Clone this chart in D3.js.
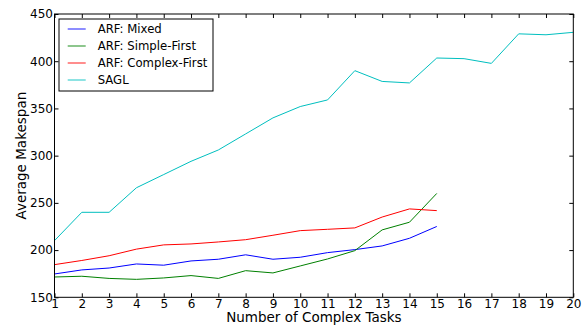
<!DOCTYPE html>
<html>
<head>
<meta charset="utf-8">
<script src="https://cdn.jsdelivr.net/npm/d3@7"></script>
<style>
	body { margin: 0; background: #fff; }
	#chart { width: 585px; height: 326px; }
	text { font-family: "DejaVu Sans", sans-serif; }
</style>
</head>
<body>
<div id="chart"></div>
<script>
const tasks = d3.range(1, 21);
const mixed = [174.7, 179, 181, 185.3, 184, 188.5, 190.3, 195, 190.3, 192.4, 197.3, 200.5, 204.4, 212.5, 225];
const simple_first = [171.5, 172.3, 170, 169, 170.5, 173, 170, 178.2, 175.8, 183.2, 190.6, 199.4, 221.4, 229.5, 260];
const complex_first = [184.6, 189, 194, 201, 205.5, 206.5, 208.6, 211, 215.7, 220.6, 222, 223.5, 235, 243.6, 241.8];
const sagl = [210, 240, 240, 266, 280, 294, 306, 323, 340, 352, 359, 390, 378.6, 377, 403.4, 402.7, 397.7, 429, 428, 430.6];
const y_ticks = [150, 200, 250, 300, 350, 400, 450];

const series_names = ["ARF: Mixed", "ARF: Simple-First", "ARF: Complex-First", "SAGL"];
const series_values = [mixed, simple_first, complex_first, sagl];
const colors = ["#0000ff", "#008000", "#ff0000", "#00bfbf"];

let margin = { top: 14, left: 54.5, bottom: 28.7, right: 11.7 };
let width = 585 - margin.left - margin.right,
	height = 326 - margin.top - margin.bottom;

let svg = d3.select("#chart")
	.append("svg")
	.attr("width", 585)
	.attr("height", 326);

let plot = svg.append("g")
	.attr("transform", "translate(" + margin.left + "," + margin.top + ")");

// scales
let x = d3.scaleLinear().domain([1, 20]).range([0, width]);
let y = d3.scaleLinear().domain([150, 450]).range([height, 0]);

// axes (ticks inward, all four sides)
function style_axis(g) {
	g.select(".domain").remove();
	g.selectAll("text").style("font-size", "12px").attr("fill", "#000");
	g.selectAll("line").attr("stroke", "#000");
}

plot.append("g")
	.attr("transform", "translate(0," + height + ")")
	.call(d3.axisBottom(x).tickValues(tasks).tickFormat(d3.format("d")).tickSizeInner(-4).tickPadding(2))
	.call(style_axis);

plot.append("g")
	.call(d3.axisTop(x).tickValues(tasks).tickSizeInner(-4).tickFormat(""))
	.call(style_axis);

plot.append("g")
	.call(d3.axisLeft(y).tickValues(y_ticks).tickSizeInner(-4).tickPadding(1.5))
	.call(style_axis);

plot.append("g")
	.attr("transform", "translate(" + width + ",0)")
	.call(d3.axisRight(y).tickValues(y_ticks).tickSizeInner(-4).tickFormat(""))
	.call(style_axis);

// lines
let line = d3.line()
	.x((d, i) => x(tasks[i]))
	.y(d => y(d));

series_values.forEach((vals, i) => {
	plot.append("path")
		.datum(vals)
		.attr("d", line)
		.attr("fill", "none")
		.attr("stroke", colors[i])
		.attr("stroke-width", 1);
});

// frame
plot.append("rect")
	.attr("width", width)
	.attr("height", height)
	.attr("fill", "none")
	.attr("stroke", "#000")
	.attr("stroke-width", 1);

// legend
let legend = plot.append("g")
	.attr("transform", "translate(" + 4.5 + "," + 5 + ")");

legend.append("rect")
	.attr("width", 154)
	.attr("height", 72)
	.attr("fill", "#fff")
	.attr("stroke", "#000")
	.attr("stroke-width", 1);

series_names.forEach((name, i) => {
	let row = legend.append("g")
		.attr("transform", "translate(0," + (10 + i * 17) + ")");
	row.append("line")
		.attr("x1", 8.7).attr("x2", 26.7)
		.attr("stroke", colors[i])
		.attr("stroke-opacity", 0.6)
		.attr("stroke-width", 1.5);
	row.append("text")
		.attr("x", 38.7)
		.attr("y", 4.3)
		.style("font-size", "11.7px")
		.text(name);
});

// axis titles
svg.append("text")
	.attr("x", margin.left + width / 2)
	.attr("y", 322)
	.attr("text-anchor", "middle")
	.style("font-size", "13.5px")
	.text("Number of Complex Tasks");

svg.append("text")
	.attr("transform", "translate(26," + (margin.top + height / 2) + ") rotate(-90)")
	.attr("text-anchor", "middle")
	.style("font-size", "13.5px")
	.text("Average Makespan");
</script>
</body>
</html>
